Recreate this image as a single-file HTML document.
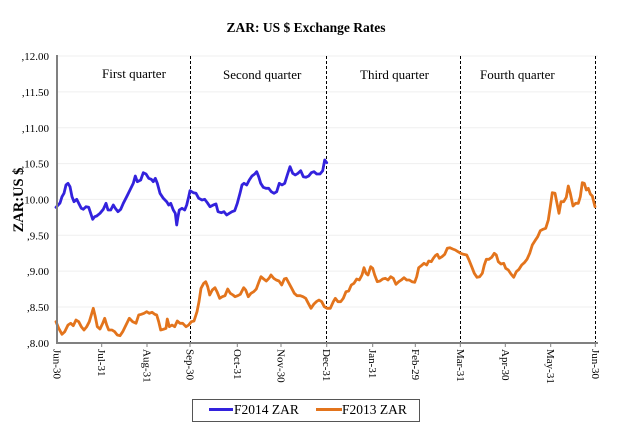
<!DOCTYPE html>
<html><head><meta charset="utf-8"><style>
html,body{margin:0;padding:0;background:#fff;}
svg{display:block;}
text{font-family:"Liberation Serif","DejaVu Serif",serif;fill:#000;}
</style></head><body>
<svg width="630" height="432" viewBox="0 0 630 432" xmlns="http://www.w3.org/2000/svg">
<rect width="630" height="432" fill="#fff"/>
<text x="306" y="32" font-size="13.5" font-weight="bold" text-anchor="middle">ZAR: US $ Exchange Rates</text>
<!-- gridlines -->
<g stroke="#efefef" stroke-width="1">
<line x1="58" y1="56" x2="598" y2="56"/>
<line x1="58" y1="91.9" x2="598" y2="91.9"/>
<line x1="58" y1="127.8" x2="598" y2="127.8"/>
<line x1="58" y1="163.6" x2="598" y2="163.6"/>
<line x1="58" y1="199.4" x2="598" y2="199.4"/>
<line x1="58" y1="235.3" x2="598" y2="235.3"/>
<line x1="58" y1="271.1" x2="598" y2="271.1"/>
<line x1="58" y1="307" x2="598" y2="307"/>
</g>
<!-- y tick labels -->
<g font-size="11" text-anchor="end">
<text x="49" y="60">,12.00</text>
<text x="49" y="96">,11.50</text>
<text x="49" y="132">,11.00</text>
<text x="49" y="167.5">,10.50</text>
<text x="49" y="203.5">,10.00</text>
<text x="49" y="239.5">,9.50</text>
<text x="49" y="275">,9.00</text>
<text x="49" y="311">,8.50</text>
<text x="49" y="347">,8.00</text>
</g>
<text transform="translate(23,200) rotate(-90)" font-size="14.5" font-weight="bold" text-anchor="middle">ZAR:US $</text>
<!-- quarter labels -->
<g font-size="13">
<text x="102" y="78">First quarter</text>
<text x="223" y="79">Second quarter</text>
<text x="360" y="79">Third quarter</text>
<text x="480" y="79">Fourth quarter</text>
</g>
<!-- dashed separators -->
<g stroke="#000" stroke-width="1" stroke-dasharray="3,2">
<line x1="190.5" y1="56" x2="190.5" y2="343"/>
<line x1="326.5" y1="56" x2="326.5" y2="343"/>
<line x1="460.5" y1="56" x2="460.5" y2="343"/>
<line x1="595.5" y1="56" x2="595.5" y2="343"/>
</g>
<!-- series -->
<polyline fill="none" stroke="#3322dd" stroke-width="2.8" stroke-linejoin="round" stroke-linecap="round" points="56,207.3 60,203 62,196.7 64,193.3 66,185 68,183.3 70,186.7 72,196.7 74,201.7 76.7,199.3 78.7,203.3 81.3,208.3 83.3,209.3 86,206.7 88.7,207.3 90.7,213.3 92.7,219.3 94.7,216.7 96.7,216 100,213.3 103.3,209.3 106,203.3 108,210 110.7,210 113.3,205 115.3,208.3 118,211.7 120.7,209.3 123.3,203.3 126.7,196.7 130,190 133.3,183.3 135.3,176 137.3,181.7 140.7,180 143.3,172.7 146,174 148.7,178.3 151.3,179.3 153.3,181.7 155.3,178.3 157.3,183.3 160,193.3 163.3,198.3 166.7,201.7 168.7,205 170.7,203.3 173.3,210 175.3,213.3 176.7,225 178,216.7 179.3,210 182,208.3 184.7,210 186.7,205 188.7,196.7 190,190.7 193.3,192.7 196,193.3 198.7,198.3 202,200 204.7,199.3 207.3,202.7 210,206.7 213.3,205 216,204 218,211.7 221.3,212.7 224,211.7 226.7,215 229.3,213.3 232,211.7 234.7,210.7 237.3,203.3 240,193.3 242,185 244,183.3 246.7,185 249.3,180 252,176 254.7,174 256.7,171.7 258.7,176.7 260.7,183.3 263.3,187.3 266,188.3 268.7,188.3 271.3,191.7 274,193.3 276.7,191.7 279.3,183.3 282,185 284.7,183.3 287.3,175 290,166.7 292.7,173.3 295.3,175 298,173.3 300.7,170.7 303.3,176.7 306,177.3 308.7,176 311.3,172.7 314,171.7 316.7,174 320,174 322.7,170.7 324.7,160 326.7,162.7"/>
<polyline fill="none" stroke="#e3741c" stroke-width="2.8" stroke-linejoin="round" stroke-linecap="round" points="56,321.7 58.7,328.3 62,334.3 64.7,331.7 68,325 70.7,323.3 73.3,325.7 76,320 78.7,321.7 81.3,326.7 84,330 86.7,326.7 89.3,321.7 91.3,315 93.3,308.3 95.3,316.7 97.3,326.7 100,329 102.7,323.3 104.7,318.3 106.7,325 108.7,330 112,330 114.7,331.7 117.3,335 120,335.7 122.7,331.7 126,325 129.3,318.3 132.7,321.7 136,323.3 138.7,315 141.3,314.3 144,313.3 146.7,311.7 149.3,313.3 152,312.3 154.7,314.3 156.7,315 158.7,321.7 160.7,330 163.3,329.3 166,328.3 167.3,319 169.3,326.7 172,325 174.7,326.7 177.3,321 180,323.3 182.7,323.3 186,326.7 188.7,325 191.3,321.7 194,321 197,311.7 199,301.7 201,288.3 203.7,283.3 205.7,281.7 207.7,286.7 209.7,295 212.3,290 215,287.7 217,291.7 219.7,298.3 222.3,296.7 225,295.7 227.7,289 230.3,293.3 233,295 235,296.7 237.7,295.7 240.3,294.3 243.7,287.7 245.7,290 248.3,296.7 251,293.3 253.7,291.7 256.3,289 259,281.7 261,276.7 263.7,279 266.3,281 269,278.3 271,275 273.7,278.3 276.3,280 279,281 281.7,285 284.3,279 286.3,278.3 289,283.3 291.7,288.3 294.3,293.3 297,295.7 300.3,295.7 303,296.7 305.7,298.3 308.3,303.3 311,308.3 313.7,304.3 316.3,301.7 319,300 321.7,301.7 324.3,306.7 327,308.3 330.3,308.3 333.3,301.7 335.3,298.3 338,301.7 340.7,301.7 343.3,298.3 346,291.7 348.7,291 351.3,285 354,283.3 356.7,279 359.3,280 362,275 364,267.7 366,273.3 368,275 370.7,266.7 372.7,268.3 374.7,275 377.3,281.7 380,281 382.7,279 385.3,278.3 388,280 390.7,276.7 393.3,278.3 396,284.3 398.7,281.7 401.3,280 404,277.7 406.7,280 409.3,280 412,281.7 414.7,282.3 416.7,276.7 418.7,267.7 421.3,265.7 424,263.3 426.7,265 428.7,261 431.3,261.7 433.3,258.3 435.3,255.7 437.3,254.3 439.3,258.3 442,256.7 444.7,254.3 447.3,248.3 450,247.7 452.7,249 455.3,250 458,251.7 460.7,253.3 463.3,254.3 466.7,255 469,260 471.7,266.7 474.3,273.3 477,277.3 479.7,276.7 482.3,273.3 484.3,265 486.3,259.3 489,259.3 491.7,257.3 494.3,253.3 496.3,255 498.3,261.7 501,264 503.7,263.3 505.7,268.3 508.3,270 511,274 513.7,277.3 516.3,271.7 519,269.3 521.7,265 524.3,262.7 527,259.3 529.7,253.3 532.3,245 535,240.7 537.7,236.7 540.3,230.7 543,229.3 545.7,228.3 548.3,220 550.3,206.7 552.3,192.7 555,193.3 557,203.3 559,213.3 561,201.7 563.7,201.7 566.3,197.3 568.3,186 570.3,193.3 573,206 575.7,203.3 578.3,203.3 580.3,196.7 582.3,182.7 584.3,183.3 586.3,190 588.3,188.3 590.3,194 592.3,196 595,206.7"/>
<!-- axes -->
<line x1="57" y1="55" x2="57" y2="344" stroke="#808080" stroke-width="2"/>
<line x1="56" y1="343" x2="598" y2="343" stroke="#808080" stroke-width="2"/>
<g stroke="#808080" stroke-width="1">
<line x1="101.7" y1="343" x2="101.7" y2="347"/>
<line x1="147" y1="343" x2="147" y2="347"/>
<line x1="190" y1="343" x2="190" y2="347"/>
<line x1="237.3" y1="343" x2="237.3" y2="347"/>
<line x1="281" y1="343" x2="281" y2="347"/>
<line x1="326.7" y1="343" x2="326.7" y2="347"/>
<line x1="372.7" y1="343" x2="372.7" y2="347"/>
<line x1="415.3" y1="343" x2="415.3" y2="347"/>
<line x1="460.3" y1="343" x2="460.3" y2="347"/>
<line x1="505.3" y1="343" x2="505.3" y2="347"/>
<line x1="550.7" y1="343" x2="550.7" y2="347"/>
<line x1="595.3" y1="343" x2="595.3" y2="347"/>
</g>
<!-- x labels -->
<g font-size="11">
<text transform="translate(53.5,349) rotate(90)">Jun-30</text>
<text transform="translate(98,349) rotate(90)">Jul-31</text>
<text transform="translate(143.5,349) rotate(90)">Aug-31</text>
<text transform="translate(186.5,349) rotate(90)">Sep-30</text>
<text transform="translate(233.8,349) rotate(90)">Oct-31</text>
<text transform="translate(277.5,349) rotate(90)">Nov-30</text>
<text transform="translate(323.2,349) rotate(90)">Dec-31</text>
<text transform="translate(369.2,349) rotate(90)">Jan-31</text>
<text transform="translate(411.8,349) rotate(90)">Feb-29</text>
<text transform="translate(456.8,349) rotate(90)">Mar-31</text>
<text transform="translate(501.8,349) rotate(90)">Apr-30</text>
<text transform="translate(547.2,349) rotate(90)">May-31</text>
<text transform="translate(591.8,349) rotate(90)">Jun-30</text>
</g>
<!-- legend -->
<rect x="192.5" y="399.5" width="227" height="22" fill="#fff" stroke="#555" stroke-width="1"/>
<line x1="209" y1="409.5" x2="233" y2="409.5" stroke="#3322dd" stroke-width="3"/>
<text x="234" y="414" font-size="13.5">F2014 ZAR</text>
<line x1="316" y1="409.5" x2="342" y2="409.5" stroke="#e3741c" stroke-width="3"/>
<text x="342" y="414" font-size="13.5">F2013 ZAR</text>
</svg>
</body></html>
